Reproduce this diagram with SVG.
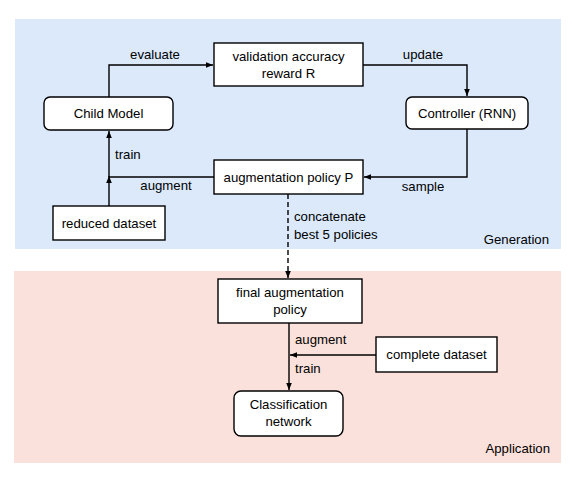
<svg xmlns="http://www.w3.org/2000/svg" width="581" height="481" viewBox="0 0 581 481">
<style>
text{font-family:"Liberation Sans",Arial,sans-serif;font-size:13.2px;fill:#000}
.c{text-anchor:middle}
.e{text-anchor:end}
.box{fill:#fff;stroke:#000;stroke-width:1.4}
.ln{fill:none;stroke:#000;stroke-width:1.4}
.dash{fill:none;stroke:#000;stroke-width:1.4;stroke-dasharray:5,3}
</style>
<defs>
<marker id="ah" viewBox="0 0 10 10" refX="10" refY="5" markerWidth="5" markerHeight="5" orient="auto"><path d="M0,1 L10,5 L0,9 z" fill="#000"/></marker>
</defs>
<g id="panels">
<rect x="15" y="19" width="546" height="230" fill="#dbe9fb"/>
<rect x="14" y="271" width="547" height="192" fill="#fbe1db"/>
<text class="e" x="549" y="244">Generation</text>
<text class="e" x="550" y="453">Application</text>
</g>
<g id="connectors">
<polyline class="ln" points="109,97 109,65 213,65" marker-end="url(#ah)"/>
<polyline class="ln" points="363,65 467,65 467,96" marker-end="url(#ah)"/>
<polyline class="ln" points="467,129 467,177 364,177" marker-end="url(#ah)"/>
<polyline class="ln" points="214,177 109,177"/>
<line class="ln" x1="109" y1="206" x2="109" y2="176" marker-end="url(#ah)"/>
<line class="ln" x1="109" y1="177" x2="109" y2="131" marker-end="url(#ah)"/>
<line class="dash" x1="288" y1="194" x2="288" y2="278" marker-end="url(#ah)"/>
<line class="ln" x1="289" y1="323" x2="289" y2="390" marker-end="url(#ah)"/>
<line class="ln" x1="376" y1="355" x2="290" y2="355" marker-end="url(#ah)"/>
<text class="c" x="155" y="59">evaluate</text>
<text class="c" x="423" y="59">update</text>
<text class="c" x="423" y="191">sample</text>
<text x="115" y="159">train</text>
<text class="c" x="166" y="190">augment</text>
<text x="294" y="221">concatenate</text>
<text x="294" y="239">best 5 policies</text>
<text x="295" y="344">augment</text>
<text x="295" y="373">train</text>
</g>
<g id="child"><rect class="box" x="44" y="97" width="129" height="33" rx="6"/><text class="c" x="108.5" y="118">Child Model</text></g>
<g id="validation"><rect class="box" x="214" y="43" width="149" height="43"/><text class="c" x="288.5" y="61">validation accuracy</text><text class="c" x="288.5" y="78">reward R</text></g>
<g id="controller"><rect class="box" x="406" y="97" width="122" height="32" rx="6"/><text class="c" x="467" y="118">Controller (RNN)</text></g>
<g id="policy"><rect class="box" x="214" y="160" width="149" height="34"/><text class="c" x="288.5" y="182">augmentation policy P</text></g>
<g id="reduced"><rect class="box" x="53" y="206" width="112" height="34"/><text class="c" x="109" y="228">reduced dataset</text></g>
<g id="final"><rect class="box" x="218" y="279" width="144" height="44"/><text class="c" x="290" y="297">final augmentation</text><text class="c" x="290" y="314">policy</text></g>
<g id="complete"><rect class="box" x="376" y="337" width="121" height="35"/><text class="c" x="436.5" y="359">complete dataset</text></g>
<g id="classification"><rect class="box" x="234" y="391" width="109" height="45" rx="7"/><text class="c" x="288.5" y="409">Classification</text><text class="c" x="288.5" y="426">network</text></g>
</svg>
